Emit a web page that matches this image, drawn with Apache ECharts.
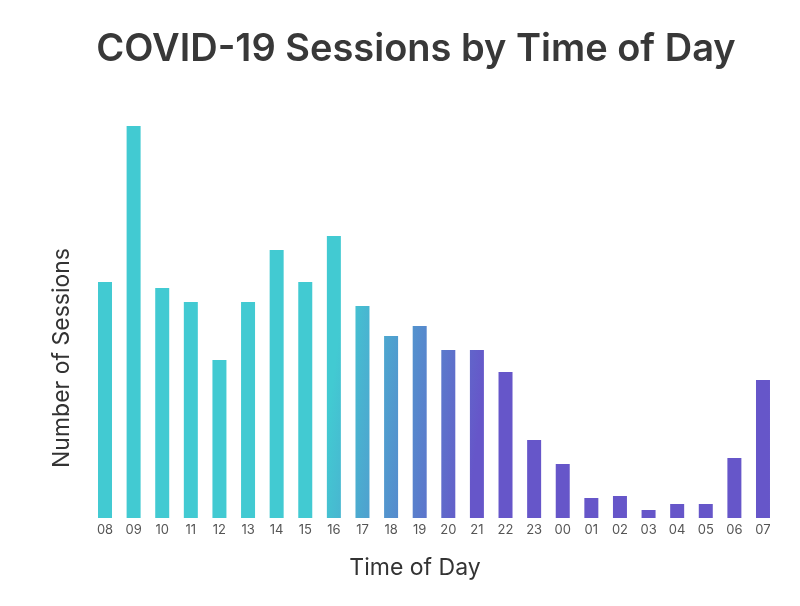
<!DOCTYPE html>
<html><head><meta charset="utf-8">
<script src="https://cdn.jsdelivr.net/npm/echarts@6/dist/echarts.min.js"></script>
<style>html,body{margin:0;padding:0;background:#fff}#c{width:800px;height:606px}</style>
</head><body><div id="c"></div>
<script>
const hours = ['08','09','10','11','12','13','14','15','16','17','18','19','20','21','22','23','00','01','02','03','04','05','06','07'];
const sessions = [118,196,115,108,79,108,134,118,141,106,91,96,84,84,73,39,27,10,11,4,7,7,30,69];
const titleText = 'COVID-19 Sessions by Time of Day';
const xName = 'Time of Day';
const yName = 'Number of Sessions';

const chart = echarts.init(document.getElementById('c'));
const FONT = 'Inter, "Noto Sans", sans-serif';
chart.setOption({
  animation: false,
  backgroundColor: '#fff',
  title: {
    text: titleText, left: 411, top: 26, textAlign: 'center',
    textStyle: {fontFamily: FONT, fontSize: 38, fontWeight: 600, color: '#383838'}
  },
  grid: {left: 90.7, right: 22.7, top: 126, bottom: 88},
  xAxis: {
    type: 'category', data: hours,
    axisLine: {show: false}, axisTick: {show: false},
    axisLabel: {fontFamily: FONT, fontSize: 13, color: '#555', margin: 6}
  },
  yAxis: {
    type: 'value', min: 0, max: 196,
    show: false
  },
  graphic: [
    {type: 'text', style: {text: xName, x: 415, y: 568, align: 'center', verticalAlign: 'middle', font: '23px ' + FONT, fill: '#333'}},
    {type: 'text', x: 62, y: 358, rotation: Math.PI/2, style: {text: yName, align: 'center', verticalAlign: 'middle', font: '23px ' + FONT, fill: '#333'}}
  ],
  series: [{
    type: 'bar', data: sessions, barWidth: 14,
    itemStyle: {
      color: new echarts.graphic.LinearGradient(330, 400, 480, 420, [
        {offset: 0, color: '#42CAD2'},
        {offset: 1, color: '#6656C9'}
      ], true)
    }
  }]
});
</script></body></html>
